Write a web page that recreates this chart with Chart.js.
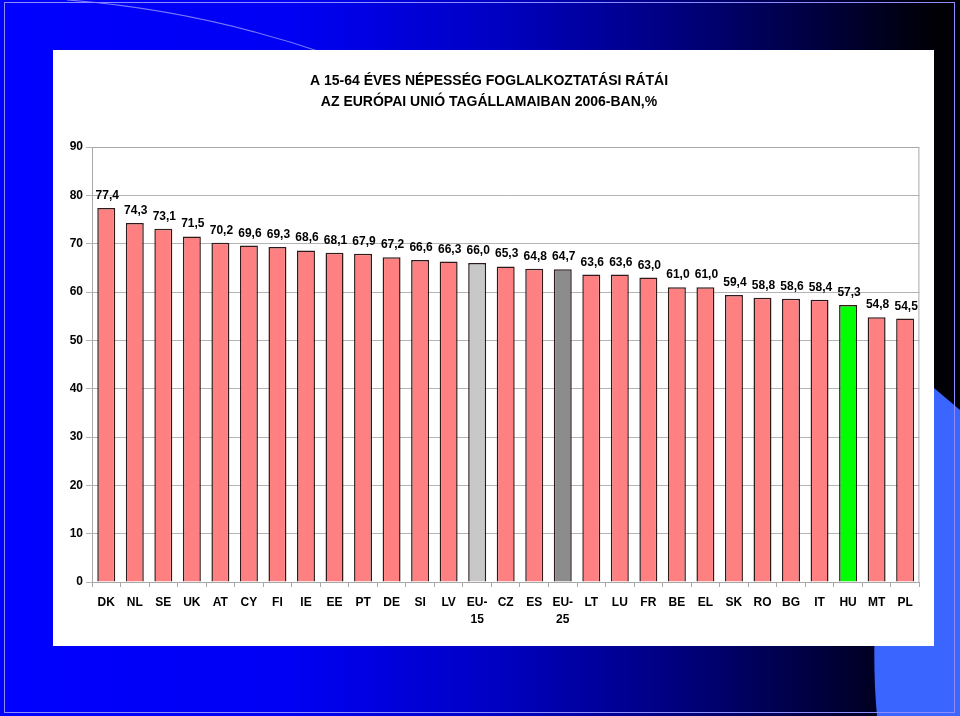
<!DOCTYPE html>
<html>
<head>
<meta charset="utf-8">
<script src="https://cdn.jsdelivr.net/npm/chart.js@4.4.0/dist/chart.umd.min.js"></script>
<style>
  html, body { margin: 0; padding: 0; }
  body { width: 960px; height: 716px; position: relative; overflow: hidden;
         background: linear-gradient(90deg, #0000ff 0%, #0000f4 30%, #0000c8 50%, #000088 68%, #000040 85%, #000010 95%, #000000 100%); }
  #bg { position: absolute; left: 0; top: 0; }
  #panel { position: absolute; left: 53px; top: 50px; width: 881px; height: 596px; background: #ffffff; }
  #frame { position: absolute; left: 4px; top: 2px; width: 951px; height: 711px; border: 1px solid #8c8cff; box-sizing: border-box; }
</style>
</head>
<body>
<svg id="bg" width="960" height="716">
  <path d="M67,0 Q200,10 330,55" stroke="#7a7aff" stroke-width="1.2" fill="none"/>
  <rect x="934" y="0" width="26" height="716" fill="#000005"/>
  <path d="M877,716 C868,620 880,470 934,388 L960,410 L960,716 Z" fill="#3a66ff"/>
</svg>
<div id="frame"></div>
<div id="panel"><canvas id="c" width="881" height="596"></canvas></div>
<script>
const categories = ["DK","NL","SE","UK","AT","CY","FI","IE","EE","PT","DE","SI","LV",["EU-","15"],"CZ","ES",["EU-","25"],"LT","LU","FR","BE","EL","SK","RO","BG","IT","HU","MT","PL"];
const rates = [77.4,74.3,73.1,71.5,70.2,69.6,69.3,68.6,68.1,67.9,67.2,66.6,66.3,66.0,65.3,64.8,64.7,63.6,63.6,63.0,61.0,61.0,59.4,58.8,58.6,58.4,57.3,54.8,54.5];
const barColors = categories.map(c => {
  const k = Array.isArray(c) ? c.join('') : c;
  if (k === 'EU-15') return '#c8c8c8';
  if (k === 'EU-25') return '#8c8c8c';
  if (k === 'HU') return '#00ff00';
  return '#ff8080';
});
const yTicks = [0,10,20,30,40,50,60,70,80,90];
const titleLines = ["A 15-64 ÉVES NÉPESSÉG FOGLALKOZTATÁSI RÁTÁI", "AZ EURÓPAI UNIÓ TAGÁLLAMAIBAN 2006-BAN,%"];

const FONT = '"Liberation Sans", Arial, sans-serif';

const extras = {
  id: 'extras',
  afterDatasetsDraw(chart) {
    const ctx = chart.ctx;
    const ca = chart.chartArea;
    ctx.save();
    // plot frame
    ctx.strokeStyle = '#a8a8a8';
    ctx.lineWidth = 1;
    ctx.beginPath();
    ctx.moveTo(ca.left, ca.top + 0.5);
    ctx.lineTo(ca.right - 0.5, ca.top + 0.5);
    ctx.lineTo(ca.right - 0.5, ca.bottom);
    ctx.stroke();
    // value labels
    ctx.fillStyle = '#000';
    ctx.font = 'bold 12px ' + FONT;
    ctx.textAlign = 'center';
    ctx.textBaseline = 'alphabetic';
    chart.getDatasetMeta(0).data.forEach((bar, i) => {
      ctx.fillText(rates[i].toFixed(1).replace('.', ','), bar.x + 1, bar.y - 9);
    });
    // title
    ctx.font = 'bold 14px ' + FONT;
    ctx.fillText(titleLines[0], 436, 35);
    ctx.fillText(titleLines[1], 436, 56);
    ctx.restore();
  }
};

new Chart(document.getElementById('c'), {
  type: 'bar',
  data: {
    labels: categories,
    datasets: [{
      data: rates,
      backgroundColor: barColors,
      borderColor: '#2e1a1a',
      borderWidth: 1.5,
      barPercentage: 0.63,
      categoryPercentage: 1.0
    }]
  },
  options: {
    responsive: false,
    animation: false,
    layout: { padding: { top: 97, right: 14.6, left: 0, bottom: 0 } },
    plugins: { legend: { display: false }, title: { display: false }, tooltip: { enabled: false } },
    scales: {
      x: {
        offset: true,
        grid: { display: true, drawOnChartArea: false, offset: true, color: '#a8a8a8', tickLength: 5 },
        border: { color: '#a8a8a8' },
        ticks: { color: '#000', font: { family: FONT, size: 12, weight: 'bold', lineHeight: 1.35 }, padding: 8, maxRotation: 0, autoSkip: false },
        afterFit(s) { s.height = 64; }
      },
      y: {
        min: 0, max: 90,
        afterBuildTicks(s) { s.ticks = yTicks.map(v => ({ value: v })); },
        grid: { color: '#b4b4b4', tickLength: 6 },
        border: { color: '#a8a8a8' },
        ticks: { color: '#000', font: { family: FONT, size: 12, weight: 'bold' }, padding: 3 },
        afterFit(s) { s.width = 39; }
      }
    }
  },
  plugins: [extras]
});
</script>
</body>
</html>
